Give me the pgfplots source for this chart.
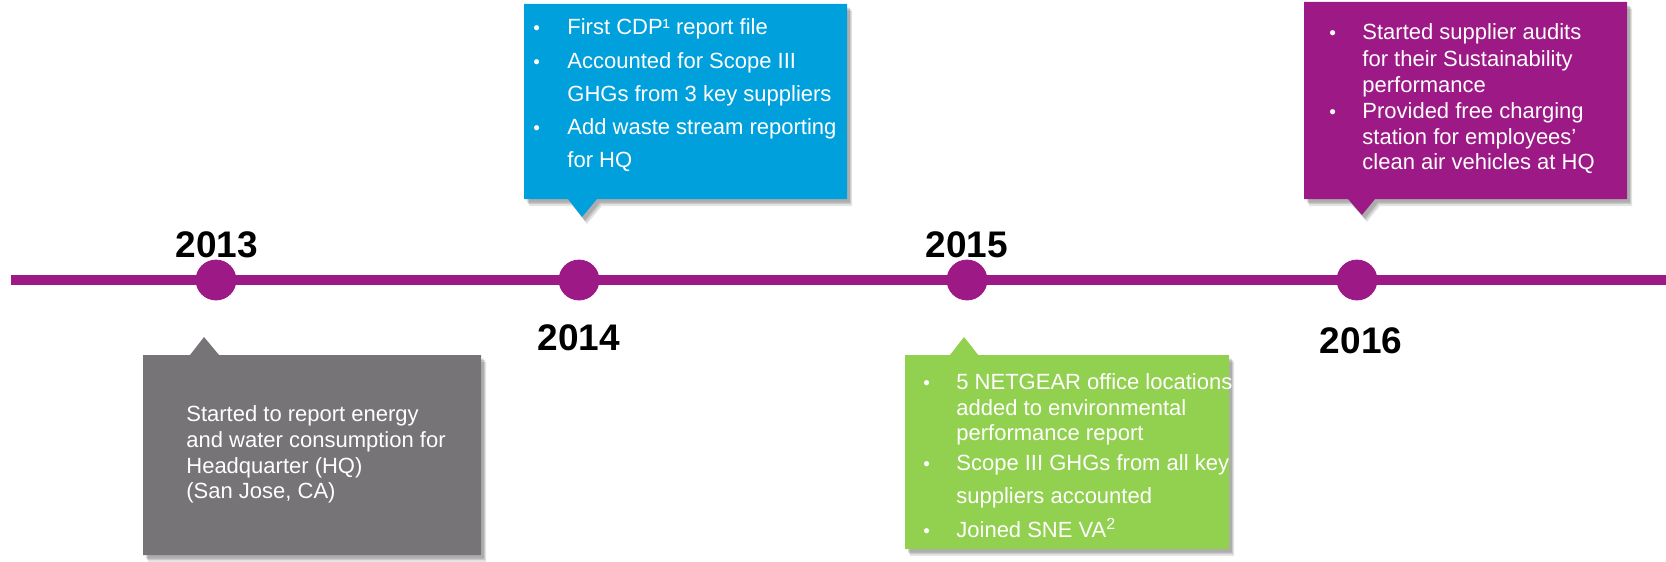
\documentclass[border=0pt]{standalone}
\usepackage{pgfplots}
\pgfplotsset{compat=1.18}
\usepackage{fontspec}
\setmainfont{Liberation Sans}
\usetikzlibrary{shadows}
\definecolor{tlpurple}{RGB}{157,25,134}
\definecolor{tlblue}{RGB}{0,160,220}
\definecolor{tlgray}{RGB}{118,116,118}
\definecolor{tlgreen}{RGB}{146,208,80}
\newcommand{\bx}{\fontsize{11bp}{13bp}\selectfont}
\newcommand{\yr}{\fontsize{18.5bp}{20bp}\selectfont\bfseries}
\tikzset{
  tl/.style={anchor=base west, text=white, font=\bx, inner sep=0pt},
  bl/.style={anchor=base west, text=white, font=\fontsize{9.5bp}{10bp}\selectfont, inner sep=0pt},
  yl/.style={anchor=base, text=black, font=\yr, inner sep=0pt},
  shd/.style={
    general shadow={fill=black, opacity=0.10, shadow xshift=2.5bp, shadow yshift=-3.5bp},
    general shadow={fill=black, opacity=0.12, shadow xshift=2bp, shadow yshift=-2.6bp},
    general shadow={fill=black, opacity=0.14, shadow xshift=1.4bp, shadow yshift=-1.8bp}}
}
\begin{document}
\begin{tikzpicture}
\begin{axis}[name=ax, hide axis, scale only axis, width=833bp, height=281bp,
  xmin=0, xmax=1666, ymin=0, ymax=562, y dir=reverse, clip=false]
% timeline
\addplot[tlpurple, line width=4.8bp] coordinates {(11,280) (1666,280)};
\addplot[only marks, mark=*, mark size=10bp, mark options={fill=tlpurple, draw=tlpurple}] coordinates {(216,280) (579,280) (967,280) (1357,280)};
% years
\node[yl] at (217,257) {2013};
\node[yl] at (579,350) {2014};
\node[yl] at (967,257) {2015};
\node[yl] at (1361,353) {2016};
% boxes
\fill[tlblue, shd] (524,4) -- (847,4) -- (847,199) -- (597,199) -- (582,217) -- (568,199) -- (524,199) -- cycle;
\fill[tlpurple, shd] (1304,2) -- (1627,2) -- (1627,199) -- (1375,199) -- (1362,215) -- (1348,199) -- (1304,199) -- cycle;
\fill[tlgray, shd] (143,355) -- (190,355) -- (204,337) -- (219,355) -- (481,355) -- (481,555) -- (143,555) -- cycle;
\fill[tlgreen, shd] (905,355) -- (950,355) -- (964,337) -- (978,355) -- (1229,355) -- (1229,549) -- (905,549) -- cycle;
% blue text
\node[bl] at (533,35) {•};
\node[tl] at (567,35) {First CDP¹ report file};
\node[bl] at (533,68) {•};
\node[tl] at (567,68) {Accounted for Scope III};
\node[tl] at (567,101) {GHGs from 3 key suppliers};
\node[bl] at (533,134) {•};
\node[tl] at (567,134) {Add waste stream reporting};
\node[tl] at (567,167) {for HQ};
% purple text
\node[bl] at (1329,40) {•};
\node[tl] at (1362,40) {Started supplier audits};
\node[tl] at (1362,66) {for their Sustainability};
\node[tl] at (1362,92) {performance};
\node[bl] at (1329,118) {•};
\node[tl] at (1362,118) {Provided free charging};
\node[tl] at (1362,144) {station for employees’};
\node[tl] at (1362,169) {clean air vehicles at HQ};
% gray text
\node[tl] at (186,421) {Started to report energy};
\node[tl] at (186,447) {and water consumption for};
\node[tl] at (186,473) {Headquarter (HQ)};
\node[tl] at (186,498) {(San Jose, CA)};
% green text
\node[bl] at (923,389) {•};
\node[tl] at (956,389) {5 NETGEAR office locations};
\node[tl] at (956,415) {added to environmental};
\node[tl] at (956,440) {performance report};
\node[bl] at (923,470) {•};
\node[tl] at (956,470) {Scope III GHGs from all key};
\node[tl] at (956,503) {suppliers accounted};
\node[bl] at (923,537) {•};
\node[tl] at (956,537) {Joined SNE VA\textsuperscript{\fontsize{8bp}{9bp}\selectfont 2}};
\end{axis}
\pgfresetboundingbox
\path (ax.south west) rectangle (ax.north east);
\end{tikzpicture}
\end{document}
